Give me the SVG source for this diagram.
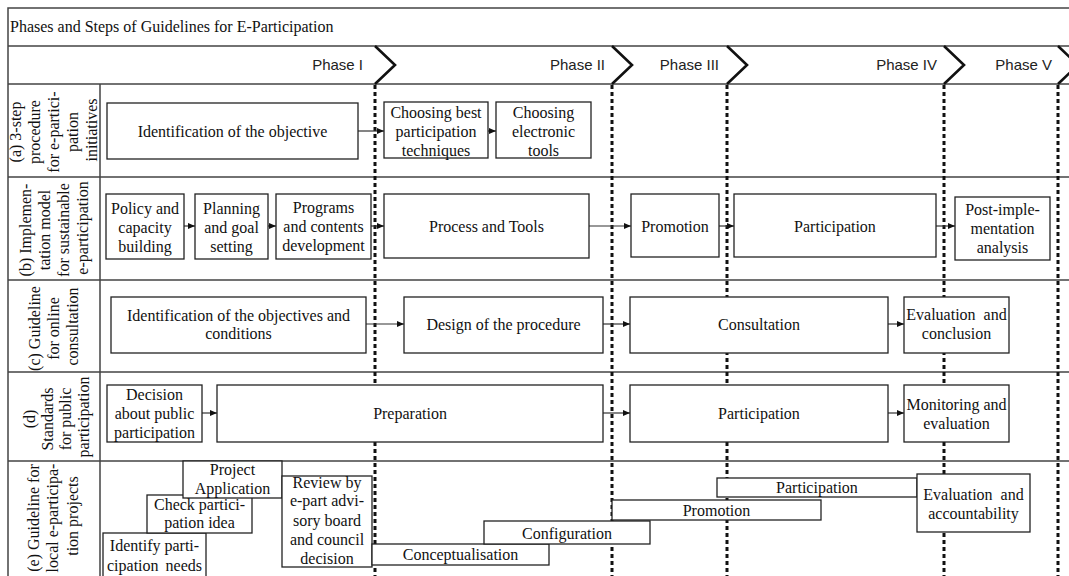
<svg xmlns="http://www.w3.org/2000/svg" width="1069" height="576" viewBox="0 0 1069 576">
  <defs>
    <marker id="ah" markerWidth="8" markerHeight="8" refX="7" refY="4" orient="auto" markerUnits="userSpaceOnUse">
      <path d="M0,1 L7,4 L0,7 z" fill="#111"/>
    </marker>
    <style>
      .frame { stroke: #444; stroke-width: 1.5; fill: none; }
      .chev { stroke: #111; stroke-width: 2.6; fill: none; stroke-linejoin: miter; }
      .phase { font-family: "Liberation Sans", Arial, sans-serif; font-size: 15px; fill: #222; text-anchor: end; }
      .title { font-family: "Liberation Serif", "Times New Roman", serif; font-size: 16px; fill: #111; }
      .lane { font-family: "Liberation Serif", "Times New Roman", serif; font-size: 16px; fill: #111; text-anchor: middle; }
      .divider { stroke: #111; stroke-width: 3; stroke-dasharray: 4 3; fill: none; }
      .box rect { fill: #fff; stroke: #222; stroke-width: 1.3; }
      .box text { font-family: "Liberation Serif", "Times New Roman", serif; font-size: 16px; fill: #111; text-anchor: middle; }
      .arrow { stroke: #333; stroke-width: 1.2; fill: none; marker-end: url(#ah); }
    </style>
  </defs>

  <rect width="1069" height="576" fill="#fff"/>

  <!-- table frame -->
  <g id="frame">
    <path class="frame" d="M8,576 V8 H1069 M8,46 H1069 M8,84 H1069 M8,177 H1069 M8,280 H1069 M8,372 H1069 M8,461 H1069 M100,84 V576"/>
    <text class="title" x="10" y="32">Phases and Steps of Guidelines for E-Participation</text>
  </g>

  <!-- phase header -->
  <g id="phases">
    <path class="chev" d="M375,46 L395,65 L375,84"/>
    <path class="chev" d="M612,46 L632,65 L612,84"/>
    <path class="chev" d="M727,46 L747,65 L727,84"/>
    <path class="chev" d="M944,46 L964,65 L944,84"/>
    <path class="chev" d="M1058,46 L1078,65 L1058,84"/>
    <text class="phase" x="363" y="70">Phase I</text>
    <text class="phase" x="605" y="70">Phase II</text>
    <text class="phase" x="719" y="70">Phase III</text>
    <text class="phase" x="937" y="70">Phase IV</text>
    <text class="phase" x="1052" y="70">Phase V</text>
  </g>

  <!-- phase boundaries -->
  <g id="dividers">
    <path class="divider" d="M375,85 V576"/>
    <path class="divider" d="M612,85 V576"/>
    <path class="divider" d="M727,85 V576"/>
    <path class="divider" d="M944,85 V576"/>
    <path class="divider" d="M1058,85 V576"/>
  </g>

  <!-- lane labels -->
  <g id="lane-a">
    <text class="lane" transform="translate(0,130) rotate(-90)">
      <tspan x="0" y="21">(a) 3-step</tspan>
      <tspan x="0" y="40">procedure</tspan>
      <tspan x="0" y="59">for e-partici-</tspan>
      <tspan x="0" y="78">pation</tspan>
      <tspan x="0" y="97">initiatives</tspan>
    </text>
  </g>
  <g id="lane-b">
    <text class="lane" transform="translate(0,228) rotate(-90)">
      <tspan x="0" y="31">(b) Implemen-</tspan>
      <tspan x="0" y="50">tation model</tspan>
      <tspan x="0" y="69">for sustainable</tspan>
      <tspan x="0" y="88">e-participation</tspan>
    </text>
  </g>
  <g id="lane-c">
    <text class="lane" transform="translate(0,326.5) rotate(-90)">
      <tspan x="0" y="40">(c) Guideline</tspan>
      <tspan x="0" y="59">for online</tspan>
      <tspan x="0" y="78">consultation</tspan>
    </text>
  </g>
  <g id="lane-d">
    <text class="lane" transform="translate(0,417) rotate(-90)">
      <tspan x="0" y="35">(d)</tspan>
      <tspan x="0" y="53">Standards</tspan>
      <tspan x="0" y="71">for public</tspan>
      <tspan x="0" y="89">participation</tspan>
    </text>
  </g>
  <g id="lane-e">
    <text class="lane" transform="translate(0,516) rotate(-90)">
      <tspan x="0" y="39">(e) Guideline for</tspan>
      <tspan x="0" y="58">local e-participa-</tspan>
      <tspan x="0" y="78">tion projects</tspan>
    </text>
  </g>

  <!-- connectors -->
  <g id="connectors">
    <path class="arrow" d="M358,131 H384"/>
    <path class="arrow" d="M488,131 H496"/>
    <path class="arrow" d="M184,226 H195"/>
    <path class="arrow" d="M268,226 H276"/>
    <path class="arrow" d="M371,226 H384"/>
    <path class="arrow" d="M589,226 H631"/>
    <path class="arrow" d="M719,226 H734"/>
    <path class="arrow" d="M936,226 H955"/>
    <path class="arrow" d="M366,324 H404"/>
    <path class="arrow" d="M603,324 H630"/>
    <path class="arrow" d="M888,324 H904"/>
    <path class="arrow" d="M202,413 H217"/>
    <path class="arrow" d="M603,413 H630"/>
    <path class="arrow" d="M888,413 H904"/>
  </g>

  <!-- lane (a) -->
  <g id="a1" class="box"><rect x="107" y="103" width="251" height="56"/><text x="232.5" y="136.5">Identification of the objective</text></g>
  <g id="a2" class="box"><rect x="384" y="102" width="104" height="56"/><text x="436" y="117.5">Choosing best</text><text x="436" y="136.5">participation</text><text x="436" y="155.5">techniques</text></g>
  <g id="a3" class="box"><rect x="496" y="102" width="95" height="56"/><text x="543.5" y="117.5">Choosing</text><text x="543.5" y="136.5">electronic</text><text x="543.5" y="155.5">tools</text></g>

  <!-- lane (b) -->
  <g id="b1" class="box"><rect x="106" y="194" width="78" height="65"/><text x="145" y="213.5">Policy and</text><text x="145" y="232.5">capacity</text><text x="145" y="251.5">building</text></g>
  <g id="b2" class="box"><rect x="195" y="194" width="73" height="65"/><text x="231.5" y="213.5">Planning</text><text x="231.5" y="232.5">and goal</text><text x="231.5" y="251.5">setting</text></g>
  <g id="b3" class="box"><rect x="276" y="194" width="95" height="65"/><text x="323.5" y="212.5">Programs</text><text x="323.5" y="231.5">and contents</text><text x="323.5" y="250.5">development</text></g>
  <g id="b4" class="box"><rect x="384" y="194" width="205" height="64"/><text x="486.5" y="231.5">Process and Tools</text></g>
  <g id="b5" class="box"><rect x="631" y="194" width="88" height="63"/><text x="675" y="231.5">Promotion</text></g>
  <g id="b6" class="box"><rect x="734" y="194" width="202" height="63"/><text x="835" y="231.5">Participation</text></g>
  <g id="b7" class="box"><rect x="955" y="197" width="95" height="63"/><text x="1002.5" y="214.5">Post-imple-</text><text x="1002.5" y="233.5">mentation</text><text x="1002.5" y="252.5">analysis</text></g>

  <!-- lane (c) -->
  <g id="c1" class="box"><rect x="111" y="297" width="255" height="56"/><text x="238.5" y="320.5">Identification of the objectives and</text><text x="238.5" y="338.5">conditions</text></g>
  <g id="c2" class="box"><rect x="404" y="297" width="199" height="56"/><text x="503.5" y="329.5">Design of the procedure</text></g>
  <g id="c3" class="box"><rect x="630" y="297" width="258" height="56"/><text x="759" y="329.5">Consultation</text></g>
  <g id="c4" class="box"><rect x="904" y="297" width="105" height="56"/><text x="956.5" y="319.5" word-spacing="4">Evaluation and</text><text x="956.5" y="338.5">conclusion</text></g>

  <!-- lane (d) -->
  <g id="d1" class="box"><rect x="107" y="385" width="95" height="57"/><text x="154.5" y="399.5">Decision</text><text x="154.5" y="418.5">about public</text><text x="154.5" y="437.5">participation</text></g>
  <g id="d2" class="box"><rect x="217" y="385" width="386" height="57"/><text x="410" y="418.5">Preparation</text></g>
  <g id="d3" class="box"><rect x="630" y="385" width="258" height="57"/><text x="759" y="418.5">Participation</text></g>
  <g id="d4" class="box"><rect x="904" y="385" width="105" height="57"/><text x="956.5" y="409.5">Monitoring and</text><text x="956.5" y="428.5">evaluation</text></g>

  <!-- lane (e) -->
  <g id="e1" class="box"><rect x="103" y="533" width="103" height="50"/><text x="154.5" y="550.5">Identify parti-</text><text x="154.5" y="570.5" word-spacing="3">cipation needs</text></g>
  <g id="e2" class="box"><rect x="147" y="495" width="105" height="38"/><text x="199.5" y="509.5">Check partici-</text><text x="199.5" y="527.5">pation idea</text></g>
  <g id="e3" class="box"><rect x="183" y="461" width="99" height="37"/><text x="232.5" y="474.5">Project</text><text x="232.5" y="493.5">Application</text></g>
  <g id="e4" class="box"><rect x="282" y="476" width="90" height="91"/><text x="327" y="487.5">Review by</text><text x="327" y="505.5">e-part advi-</text><text x="327" y="525.5">sory board</text><text x="327" y="544.5">and council</text><text x="327" y="563.5">decision</text></g>
  <g id="e5" class="box"><rect x="372" y="544" width="177" height="21"/><text x="460.5" y="559.5">Conceptualisation</text></g>
  <g id="e6" class="box"><rect x="484" y="521" width="166" height="23"/><text x="567" y="538.5">Configuration</text></g>
  <g id="e7" class="box"><rect x="612" y="500" width="209" height="20"/><text x="716.5" y="515.5">Promotion</text></g>
  <g id="e8" class="box"><rect x="717" y="478" width="200" height="19"/><text x="817" y="492.5">Participation</text></g>
  <g id="e9" class="box"><rect x="917" y="474" width="113" height="58"/><text x="973.5" y="499.5" word-spacing="4">Evaluation and</text><text x="973.5" y="518.5">accountability</text></g>
</svg>
